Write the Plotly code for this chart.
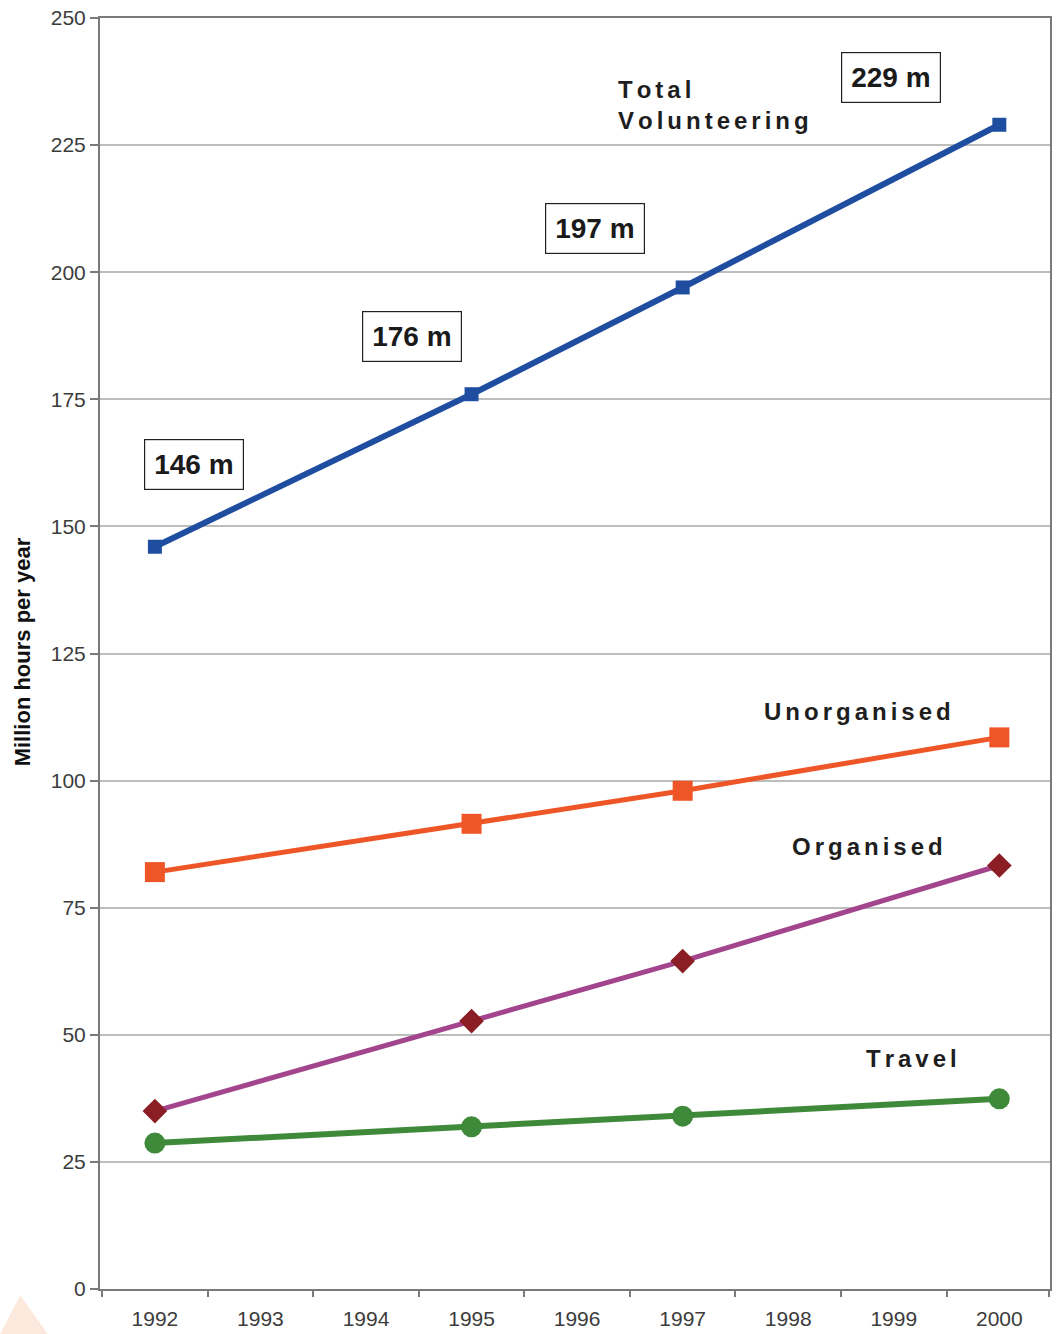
import plotly.graph_objects as go

# Volunteering hours by year (million hours per year)
years = [1992, 1995, 1997, 2000]
total_volunteering = [146, 176, 197, 229]
unorganised = [82, 91.5, 98, 108.5]
organised = [35, 52.7, 64.5, 83.3]
travel = [28.7, 31.9, 34, 37.4]

year_ticks = list(range(1992, 2001))
y_ticks = [0, 25, 50, 75, 100, 125, 150, 175, 200, 225, 250]

# Boxed value labels on the total series
total_labels = ["146 m", "176 m", "197 m", "229 m"]
total_label_x = [1992.37, 1994.44, 1996.17, 1998.97]
total_label_y = [162.1, 187.4, 208.5, 238.2]

fig = go.Figure()

fig.add_trace(go.Scatter(
    x=years, y=travel, mode="lines+markers",
    line=dict(color="#3f8a3a", width=6),
    marker=dict(symbol="circle", size=21, color="#3f8a3a"),
    name="Travel",
))
fig.add_trace(go.Scatter(
    x=years, y=organised, mode="lines+markers",
    line=dict(color="#a2458c", width=5),
    marker=dict(symbol="diamond", size=19, color="#8a1e24"),
    name="Organised",
))
fig.add_trace(go.Scatter(
    x=years, y=unorganised, mode="lines+markers",
    line=dict(color="#ef5627", width=5),
    marker=dict(symbol="square", size=20, color="#ef5627"),
    name="Unorganised",
))
fig.add_trace(go.Scatter(
    x=years, y=total_volunteering, mode="lines+markers",
    line=dict(color="#1f4ea1", width=6),
    marker=dict(symbol="square", size=14, color="#1f4ea1"),
    name="Total Volunteering",
))


def spaced(word):
    # widen letter spacing with six-per-em spaces
    return "\u2006".join(word)


FONT = "Liberation Sans, Arial, sans-serif"
label_font = dict(family=FONT, size=24, color="#1e1e1e", weight="bold")

annotations = []
for txt, ax, ay in zip(total_labels, total_label_x, total_label_y):
    annotations.append(dict(
        x=ax, y=ay, xref="x", yref="y", text=txt, showarrow=False,
        font=dict(family=FONT, size=28, color="#1a1a1a", weight="bold"),
        bordercolor="#222222", borderwidth=1.2, borderpad=9, bgcolor="white",
    ))

series_labels = [
    (spaced("Total") + "<br>" + spaced("Volunteering"), 1996.37, 232.9, "left"),
    (spaced("Unorganised"), 1998.66, 113.5, "center"),
    (spaced("Organised"), 1998.75, 87.1, "center"),
    (spaced("Travel"), 1999.17, 45.4, "center"),
]
for txt, ax, ay, anchor in series_labels:
    annotations.append(dict(
        x=ax, y=ay, xref="x", yref="y", text=txt, showarrow=False,
        xanchor=anchor, align="left", font=label_font,
    ))

annotations.append(dict(
    x=-0.082, y=0.501, xref="paper", yref="paper", text="Million hours per year",
    textangle=-90, showarrow=False, xanchor="center", yanchor="middle",
    font=dict(family=FONT, size=22, color="#111111", weight="bold"),
))

fig.update_layout(
    width=1061, height=1334,
    margin=dict(l=100, r=11, t=18, b=45),
    paper_bgcolor="white", plot_bgcolor="white",
    showlegend=False,
    annotations=annotations,
    shapes=[dict(
        type="path", xref="paper", yref="paper",
        path="M -0.084 -0.005 L -0.105 -0.0354 L -0.055 -0.0354 Z",
        fillcolor="rgba(250,205,180,0.45)", line=dict(width=0), layer="below",
    )],
)

fig.update_xaxes(
    range=[1991.48, 2000.48], automargin=False,
    tickvals=year_ticks, ticktext=[str(y) for y in year_ticks],
    ticks="", showgrid=False, zeroline=False, ticklabelstandoff=10,
    showline=True, linecolor="#7a7a7a", linewidth=2, mirror=True,
    tickfont=dict(family=FONT, size=21, color="#3c3c3c"),
    minor=dict(tickvals=[y + 0.5 for y in year_ticks[:-1]] + [1991.5, 2000.47],
               ticks="outside", ticklen=6, tickcolor="#7a7a7a", tickwidth=2, showgrid=False),
)
fig.update_yaxes(
    range=[0, 250], tickvals=y_ticks, automargin=False,
    ticks="outside", ticklen=8, tickcolor="#7a7a7a", tickwidth=2,
    showgrid=True, gridcolor="#bdbdbd", gridwidth=2, zeroline=False,
    showline=True, linecolor="#7a7a7a", linewidth=2, mirror=True,
    tickfont=dict(family=FONT, size=21, color="#3c3c3c"),
)

fig.write_html("out.html")
